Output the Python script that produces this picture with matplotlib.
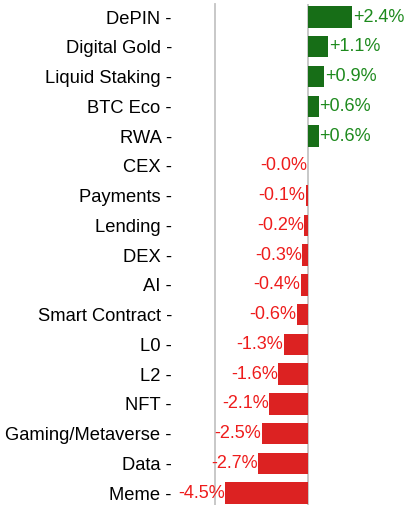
import numpy as np
import matplotlib
matplotlib.use('Agg')
import matplotlib.pyplot as plt

plt.rcParams['font.family'] = ['Liberation Sans', 'DejaVu Sans']

# sector performance (%)
sectors = ['DePIN', 'Digital Gold', 'Liquid Staking', 'BTC Eco', 'RWA', 'CEX',
           'Payments', 'Lending', 'DEX', 'AI', 'Smart Contract', 'L0', 'L2',
           'NFT', 'Gaming/Metaverse', 'Data', 'Meme']
changes = [2.4, 1.1, 0.9, 0.6, 0.6, -0.02, -0.1, -0.2, -0.3, -0.4, -0.6,
           -1.3, -1.6, -2.1, -2.5, -2.7, -4.5]

W, H = 406, 505
fig = plt.figure(figsize=(W / 100, H / 100), dpi=100)
ax = fig.add_axes([215 / W, 0, (W - 215) / W, (H - 4) / H])

y = np.arange(len(sectors))
vals = np.array(changes)
bar_cols = np.where(vals >= 0, '#176e17', '#dc2222')
txt_cols = np.where(vals >= 0, '#1d8a1d', '#ee1c1c')

ax.barh(y, vals, height=0.72, color=bar_cols)
ax.axvline(0, color='#c4c4c4', lw=1.3, zorder=0)

for yi, v, c in zip(y, vals, txt_cols):
    if v >= 0:
        ax.text(v + 0.03, yi, f'+{v:.1f}%', color=c, ha='left', va='center', fontsize=13)
    else:
        lab = f'-{abs(v):.1f}%'
        ax.text(v - 0.03, yi, lab, color=c, ha='right', va='center', fontsize=13)

ax.set_xlim(-5.05, 5.33)
ax.set_ylim(16.40, -0.437)
ax.set_yticks(y)
ax.set_yticklabels([s + ' -' for s in sectors], fontsize=13.2)
ax.tick_params(axis='y', length=0, pad=31)
ax.set_xticks([])

for side in ['top', 'right', 'bottom']:
    ax.spines[side].set_visible(False)
ax.spines['left'].set_color('#c4c4c4')
ax.spines['left'].set_linewidth(1.3)

fig.savefig('out.png', dpi=100)
